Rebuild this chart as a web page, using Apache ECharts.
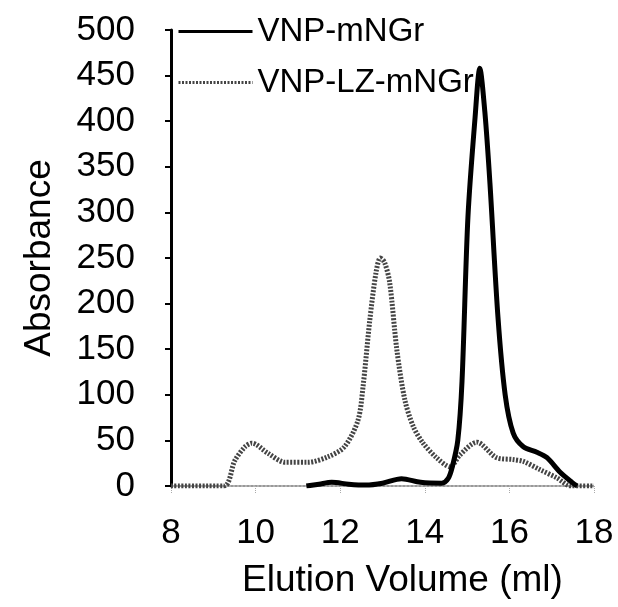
<!DOCTYPE html>
<html>
<head>
<meta charset="utf-8">
<script src="https://cdn.jsdelivr.net/npm/echarts@6/dist/echarts.min.js"></script>
<style>
  html, body { margin: 0; padding: 0; background: #fff; }
  #main { width: 618px; height: 607px; }
</style>
</head>
<body>
<div id="main"></div>
<script>
// elution volume (ml) / absorbance
var mngrX = [11.2, 11.5, 11.8, 12.2, 12.6, 13.0, 13.45, 13.9, 14.4, 14.55, 14.65, 14.78, 14.88, 15.02, 15.19, 15.3, 15.42, 15.54, 15.73, 15.9, 16.09, 16.33, 16.65, 16.89, 17.2, 17.48, 17.6];
var mngrY = [0, 2, 4, 2, 1, 3, 8, 4, 3, 8, 21, 50, 115, 295, 405, 458, 410, 332, 185, 100, 58, 43, 37, 31, 15, 4, 0];

var lzX = [8, 9.25, 9.51, 9.75, 9.91, 10.29, 10.7, 11.24, 11.71, 12.1, 12.42, 12.54, 12.7, 12.85, 12.95, 13.05, 13.17, 13.34, 13.53, 13.73, 13.96, 14.28, 14.6, 14.83, 15.23, 15.7, 16.09, 16.33, 16.72, 17.12, 17.45, 18];
var lzY = [0, 0, 28, 43, 47, 36, 26, 26, 32, 43, 72, 109, 182, 235, 250, 245, 223, 149, 94, 65, 47, 31, 21, 34, 48, 31, 29, 27, 18, 9, 0, 0];

var seriesNames = ['VNP-mNGr', 'VNP-LZ-mNGr'];

function pairs(xs, ys) {
  var out = [];
  for (var i = 0; i < xs.length; i++) out.push([xs[i], ys[i]]);
  return out;
}

var font = 'Arial, "Liberation Sans", sans-serif';
var chart = echarts.init(document.getElementById('main'), null, { renderer: 'canvas' });

var option = {
  backgroundColor: '#fff',
  animation: false,
  grid: { left: 171, right: 24, top: 30, bottom: 121 },
  legend: {
    orient: 'vertical',
    left: 172,
    top: 10,
    itemWidth: 74,
    itemHeight: 14,
    itemGap: 18,
    textStyle: { fontFamily: font, fontSize: 33, color: '#000' },
    itemStyle: { opacity: 0 },
    data: [
      { name: seriesNames[0], lineStyle: { color: '#000', width: 3 } },
      { name: seriesNames[1], lineStyle: { color: '#444', width: 3, type: [2, 1.5] } }
    ]
  },
  xAxis: {
    type: 'value',
    min: 8,
    max: 18,
    interval: 2,
    name: 'Elution Volume (ml)',
    nameLocation: 'middle',
    nameGap: 76,
    nameTextStyle: { fontFamily: font, fontSize: 37, color: '#000', padding: [0, 0, 0, 40] },
    axisLine: { lineStyle: { color: '#999', width: 2, type: 'dotted' } },
    axisTick: { length: 8, lineStyle: { color: '#aaa', width: 1, type: 'dotted' } },
    axisLabel: { fontFamily: font, fontSize: 35, color: '#000', margin: 30 },
    splitLine: { show: false }
  },
  yAxis: {
    type: 'value',
    min: 0,
    max: 500,
    interval: 50,
    name: 'Absorbance',
    nameLocation: 'middle',
    nameGap: 113,
    nameTextStyle: { fontFamily: font, fontSize: 37, color: '#000' },
    axisLine: { show: true, lineStyle: { color: '#000', width: 3 } },
    axisTick: { show: true, length: 6, lineStyle: { color: '#000', width: 2 } },
    axisLabel: { fontFamily: font, fontSize: 35, color: '#000', margin: 36 },
    splitLine: { show: false }
  },
  series: [
    {
      name: seriesNames[0],
      type: 'line',
      data: pairs(mngrX, mngrY),
      symbol: 'none',
      smooth: 0.3,
      z: 3,
      lineStyle: { color: '#000', width: 5 },
      itemStyle: { color: '#000' }
    },
    {
      name: seriesNames[1],
      type: 'line',
      data: pairs(lzX, lzY),
      symbol: 'none',
      smooth: 0.3,
      z: 2,
      lineStyle: { color: '#444', width: 5, type: [2, 1.5] },
      itemStyle: { color: '#444' }
    }
  ]
};

chart.setOption(option);
</script>
</body>
</html>
